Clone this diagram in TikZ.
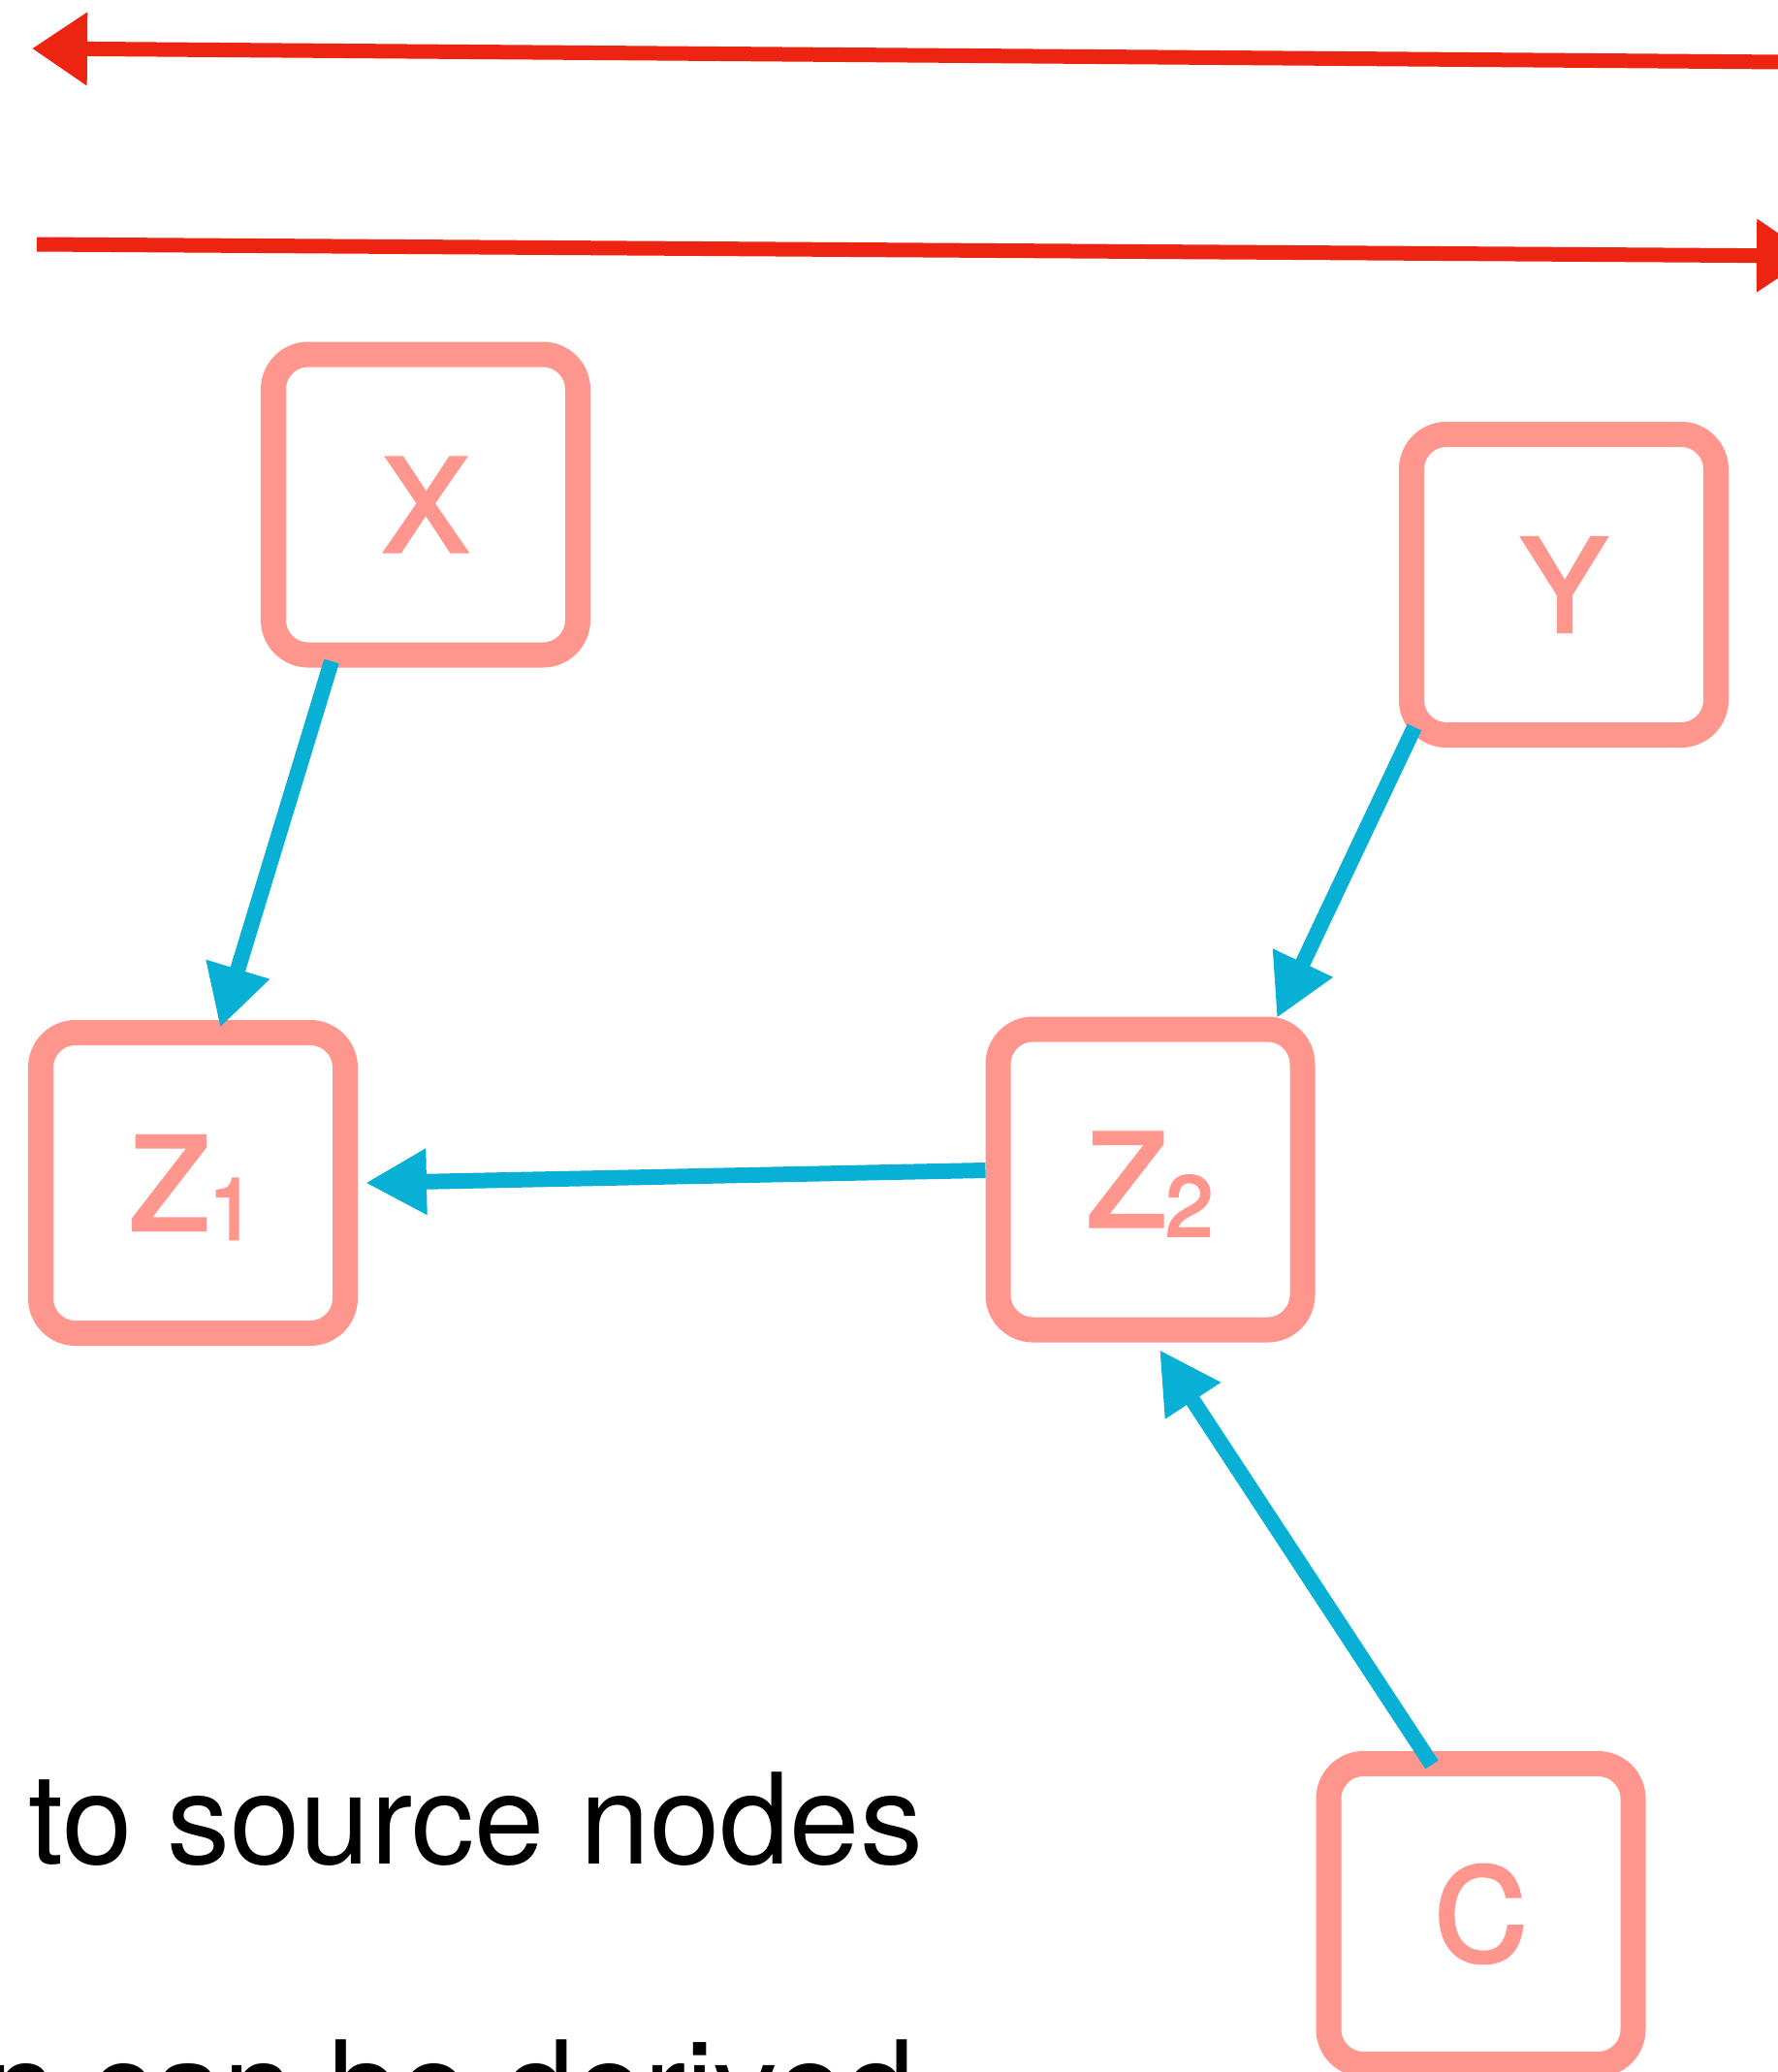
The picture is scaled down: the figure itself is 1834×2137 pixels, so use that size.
\documentclass[tikz,border=0pt]{standalone}
\usepackage{fontspec}
\setmainfont{TeX Gyre Heros}
\newfontfamily\boxfont[FakeBold=3]{TeX Gyre Heros}
\usetikzlibrary{arrows.meta,calc}
\definecolor{boxpink}{HTML}{FF968D}
\definecolor{arrowblue}{HTML}{08B0D6}
\definecolor{chalkred}{HTML}{EE2412}
\begin{document}
\begin{tikzpicture}[x=1pt,y=-1pt,
  varbox/.style={draw=boxpink, line width=26pt, rounded corners=36pt,
    minimum width=314pt, minimum height=310pt, inner sep=0pt, outer sep=13pt,
    text=boxpink, font=\boxfont\fontsize{132}{140}\selectfont},
  edge/.style={draw=arrowblue, line width=16pt, -{Triangle[length=63pt,width=64pt]}},
  redarrow/.style={draw=chalkred, line width=15pt, -{Triangle[length=57pt,width=72pt]}},
  caption/.style={anchor=base west, inner sep=0pt, font=\fontsize{130}{140}\selectfont}]
\useasboundingbox (0,0) rectangle (1834,2137);
\fill[white] (0,0) rectangle (1834,2137);
\clip (0,0) rectangle (1834,2137);

% red timeline arrows
\coordinate (r1s) at (1840,64);
\coordinate (r1e) at (33,50);
\coordinate (r2s) at (38,252);
\coordinate (r2e) at (1869,264);
\draw[redarrow] (r1s) -- (r1e);
\draw[redarrow] (r2s) -- (r2e);

% variable boxes
\node[varbox] (X) at (439,520.5) {X};
\node[varbox] (Y) at (1613,603) {Y};
\node[varbox] (Z1) at (199,1220) {Z\raisebox{-10pt}[0pt][0pt]{\fontsize{88}{90}\selectfont 1}};
\node[varbox] (Z2) at (1186.5,1216.5) {Z\raisebox{-10pt}[0pt][0pt]{\fontsize{88}{90}\selectfont 2}};
\node[varbox] (C) at (1527.5,1974) {C};

% blue edges
\draw[edge] ($(X.south)+(-97,-6.5)$) -- ($(Z1.north)+(28,8)$);
\draw[edge] ($(Y.south west)+(16,-21)$) -- ($(Z2.north)+(130.5,1.5)$);
\draw[edge] ($(Z2.west)+(0,-9.5)$) -- ($(Z1.east)+(8,0)$);
\draw[edge] ($(C.north)+(-50.5,14)$) -- ($(Z2.south)+(9.5,7.5)$);

% captions
\node[caption] (t1) at (29,1922) {to source nodes};
\node[caption] (t2) at (-15,2198) {n can be derived};
\end{tikzpicture}
\end{document}
